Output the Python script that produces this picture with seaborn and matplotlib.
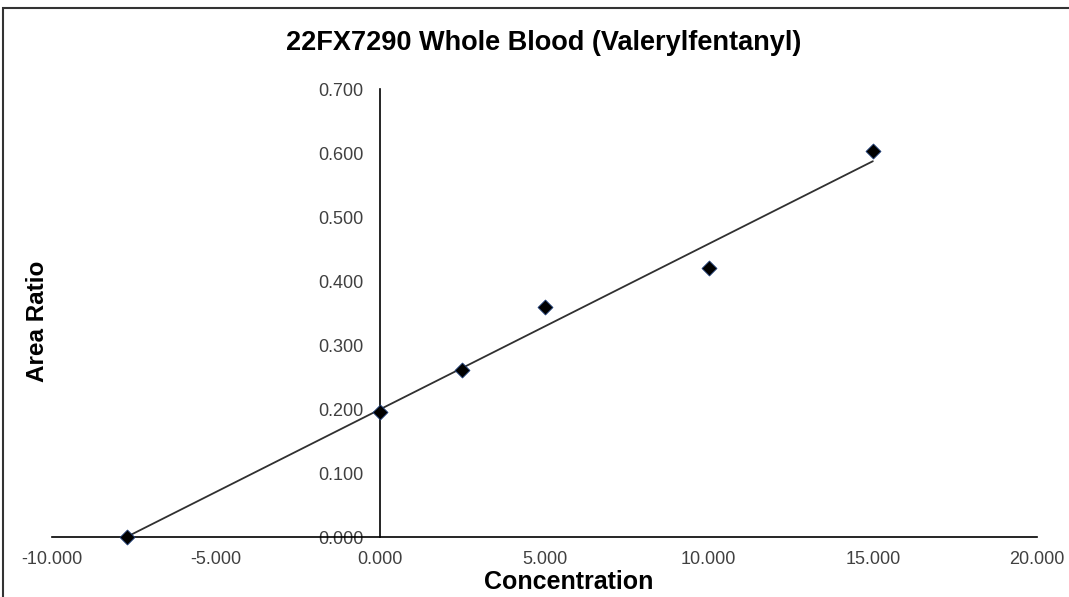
import numpy as np
import pandas as pd
import matplotlib
matplotlib.use("Agg")
import matplotlib.pyplot as plt
import seaborn as sns
from matplotlib.patches import Rectangle
from matplotlib.ticker import FormatStrFormatter

# Standard addition data (first point = x-intercept of the fit)
conc = [-7.73, 0.0, 2.5, 5.0, 10.0, 15.0]
area_ratio = [0.0, 0.195, 0.261, 0.359, 0.420, 0.603]
x_ticks = [-10, -5, 0, 5, 10, 15, 20]
y_ticks = [0.0, 0.1, 0.2, 0.3, 0.4, 0.5, 0.6, 0.7]

df = pd.DataFrame({"conc": conc, "ratio": area_ratio})

# linear trendline through the spiked samples, drawn across the data range
slope, intercept = np.polyfit(df["conc"][1:], df["ratio"][1:], 1)
trend = pd.DataFrame({"conc": [df["conc"].min(), df["conc"].max()]})
trend["ratio"] = slope * trend["conc"] + intercept

sns.set_style("white")
plt.rcParams["font.family"] = ["Liberation Sans", "DejaVu Sans"]

W, H = 1069, 597
fig = plt.figure(figsize=(W / 100, H / 100), dpi=100)
ax = fig.add_axes([52 / W, 1 - 537 / H, (1037 - 52) / W, (537 - 89) / H])

sns.lineplot(x="conc", y="ratio", data=trend, color="#303030", linewidth=1.3, ax=ax)
sns.scatterplot(x="conc", y="ratio", data=df, marker="D", s=58, color="black",
                edgecolor="#1f3f7a", linewidth=0.6, zorder=5, ax=ax)

ax.set_xlim(-10, 20)
ax.set_ylim(0, 0.7)
ax.set_xticks(x_ticks)
ax.set_yticks(y_ticks)
ax.xaxis.set_major_formatter(FormatStrFormatter("%.3f"))
ax.yaxis.set_major_formatter(FormatStrFormatter("%.3f"))
ax.tick_params(axis="both", length=0, labelsize=13, labelcolor="#404040")
ax.tick_params(axis="y", pad=12)
ax.tick_params(axis="x", pad=10)

for s in ["top", "right"]:
    ax.spines[s].set_visible(False)
ax.spines["left"].set_position(("data", 0))
ax.spines["left"].set_color("black")
ax.spines["bottom"].set_color("black")
ax.spines["left"].set_linewidth(1.2)
ax.spines["bottom"].set_linewidth(1.2)
ax.set_xlabel("")
ax.set_ylabel("")
ax.set_clip_on(False)
for c in ax.collections:
    c.set_clip_on(False)

fig.text(544 / W, 1 - 43 / H, "22FX7290 Whole Blood (Valerylfentanyl)", ha="center", va="center",
         fontsize=19.5, fontweight="bold", color="black")
fig.text(569 / W, 1 - 582 / H, "Concentration", ha="center", va="center",
         fontsize=18, fontweight="bold", color="black")
fig.text(38 / W, 1 - 321 / H, "Area Ratio", ha="center", va="center", rotation=90,
         fontsize=17.5, fontweight="bold", color="black")

# chart area border
fig.patches.append(Rectangle((3 / W, -0.1), 1.2, 1 - 8 / H + 0.1, transform=fig.transFigure,
                             fill=False, edgecolor="#333333", linewidth=1.5))

fig.savefig("out.png", dpi=100)
